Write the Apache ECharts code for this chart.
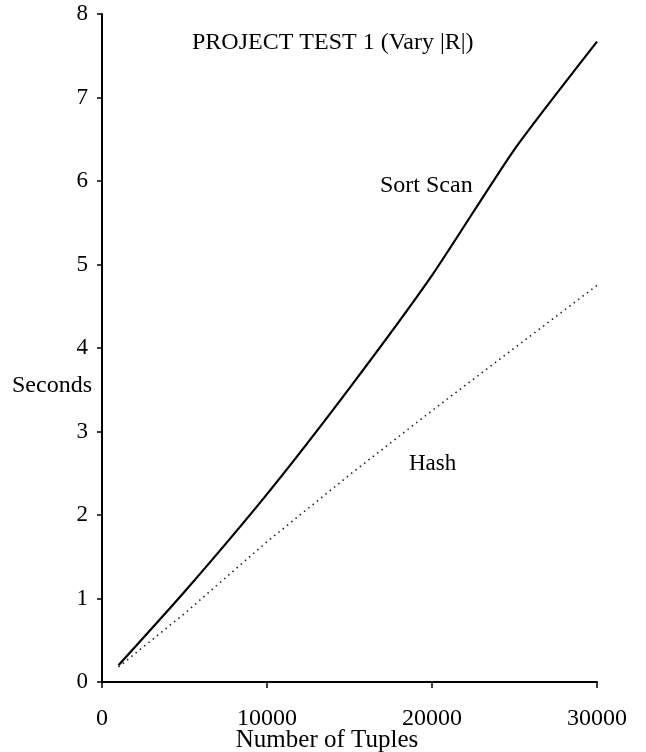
<!DOCTYPE html>
<html>
<head>
<meta charset="utf-8">
<script src="https://cdn.jsdelivr.net/npm/echarts@6/dist/echarts.min.js"></script>
<style>
html,body{margin:0;padding:0;background:#fff;}
#c{width:646px;height:752px;}
</style>
</head>
<body>
<div id="c"></div>
<script>
var tuples = [1000, 5000, 10000, 15000, 20000, 25000, 30000];
var sortScan = [0.2, 1.08, 2.25, 3.52, 4.87, 6.38, 7.67];
var hashVals = [0.18, 0.82, 1.68, 2.48, 3.25, 4.0, 4.75];
var xTicks = [0, 10000, 20000, 30000];
var yTicks = [0, 1, 2, 3, 4, 5, 6, 7, 8];

function pairs(xs, ys){ return xs.map(function(x,i){ return [x, ys[i]]; }); }

var font = '"Liberation Serif", "DejaVu Serif", serif';
function label(txt, x, y, size, align){
  align = align || 'left';
  return {type: 'text', x: x, y: y,
    style: {text: txt, fill: '#000', fontFamily: font, fontSize: size,
            align: align, verticalAlign: 'middle', textAlign: align, textVerticalAlign: 'middle'}};
}
var chart = echarts.init(document.getElementById('c'), null, {renderer:'canvas'});
chart.setOption({
  backgroundColor: '#fff',
  animation: false,
  grid: {left: 102, right: 49, top: 14, bottom: 70, containLabel: false, outerBoundsMode: 'none'},
  xAxis: {
    type: 'value', min: 0, max: 30000, interval: 10000,
    axisLine: {show: true, lineStyle: {color: '#000', width: 2}},
    axisTick: {show: true, length: 6, lineStyle: {color: '#000', width: 1.5}},
    splitLine: {show: false},
    axisLabel: {color: '#000', fontFamily: font, fontSize: 24, margin: 25,
      formatter: function(v){ return xTicks.indexOf(v) >= 0 ? String(v) : ''; }}
  },
  yAxis: {
    type: 'value', min: 0, max: 8, interval: 1,
    axisLine: {show: true, lineStyle: {color: '#000', width: 2}},
    axisTick: {show: true, length: 5, lineStyle: {color: '#000', width: 1.5}},
    splitLine: {show: false},
    axisLabel: {color: '#000', fontFamily: font, fontSize: 23, margin: 14,
      formatter: function(v){ return yTicks.indexOf(v) >= 0 ? String(v) : ''; }}
  },
  graphic: [
    label('PROJECT TEST 1 (Vary |R|)', 192, 43, 24),
    label('Sort Scan', 380, 186, 24),
    label('Hash', 409, 464, 23),
    label('Seconds', 12, 386, 24),
    label('Number of Tuples', 327, 740, 25, 'center')
  ],
  series: [
    {name: 'Sort Scan', type: 'line', data: pairs(tuples, sortScan), smooth: 0.2,
     showSymbol: false, lineStyle: {color: '#000', width: 2.2}},
    {name: 'Hash', type: 'line', data: pairs(tuples, hashVals), smooth: false,
     showSymbol: false, lineStyle: {color: '#222', width: 1.6, type: [1.5, 4]}}
  ]
});
</script>
</body>
</html>
